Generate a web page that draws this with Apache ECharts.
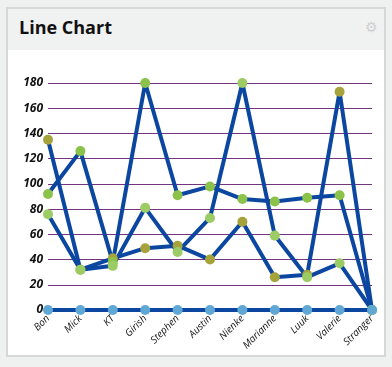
<!DOCTYPE html>
<html><head><meta charset="utf-8">
<script src="https://cdn.jsdelivr.net/npm/echarts@6/dist/echarts.min.js"></script>
<style>
html,body{margin:0;padding:0;background:#eff0f0;width:392px;height:367px;overflow:hidden;}
#panel{position:absolute;left:6px;top:7px;width:376px;height:346px;border:2px solid #d6d7d7;background:#fff;}
#head{position:absolute;left:0;top:0;width:376px;height:41px;background:#f0f1f1;}
#title{position:absolute;left:11px;top:6px;font-family:"Open Sans",sans-serif;font-weight:bold;font-size:18px;color:#111;}
#gear{position:absolute;left:357px;top:10px;font-family:"DejaVu Sans";font-size:14px;color:#cfcfcf;}
#chart{position:absolute;left:0;top:0;width:392px;height:367px;}
</style></head>
<body>
<div id="panel"><div id="head"><div id="title">Line Chart</div><div id="gear">⚙</div></div></div>
<div id="chart"></div>
<script>
var categories = ["Bon","Mick","KT","Girish","Stephen","Austin","Nienke","Marianne","Luuk","Valerie","Stranger"];
var seriesA = [135, 32, 41, 49, 51, 40, 70, 26, 28, 173, 0];
var seriesB = [92, 126, 38, 180, 91, 98, 88, 86, 89, 91, 0];
var seriesC = [76, 32, 35, 81, 46, 73, 180, 59, 26, 37, 0];
var seriesD = [0, 0, 0, 0, 0, 0, 0, 0, 0, 0, 0];
var yTicks = {min: 0, max: 180, interval: 20};

function mk(name, data, color, z) {
  return {
    name: name, type: 'line', data: data, z: z,
    symbol: 'circle', symbolSize: 10, showAllSymbol: true,
    lineStyle: {color: '#0b47a0', width: 4},
    itemStyle: {color: color, borderWidth: 0},
    emphasis: {disabled: true}, animation: false
  };
}
var chart = echarts.init(document.getElementById('chart'), null, {renderer: 'canvas'});
chart.setOption({
  backgroundColor: 'transparent',
  animation: false,
  grid: {left: 48, right: 20, top: 83, bottom: 57, containLabel: false},
  xAxis: {
    type: 'category', data: categories, boundaryGap: false,
    axisLine: {show: false}, axisTick: {show: false},
    axisLabel: {rotate: 45, interval: 0, margin: 7, fontFamily: 'Open Sans', fontStyle: 'italic', fontSize: 10, color: '#111'}
  },
  yAxis: {
    type: 'value', min: yTicks.min, max: yTicks.max, interval: yTicks.interval,
    axisLine: {show: false}, axisTick: {show: false},
    axisLabel: {margin: 5, fontFamily: 'Open Sans', fontStyle: 'italic', fontWeight: 'bold', fontSize: 12, color: '#111'},
    splitLine: {lineStyle: {color: '#74357f', width: 1}}
  },
  series: [
    mk('A', seriesA, '#a6a23c', 3),
    mk('B', seriesB, '#8bc34a', 3),
    mk('C', seriesC, '#9ccc65', 3),
    mk('D', seriesD, '#5fa8d6', 4)
  ]
});
</script>
</body></html>
